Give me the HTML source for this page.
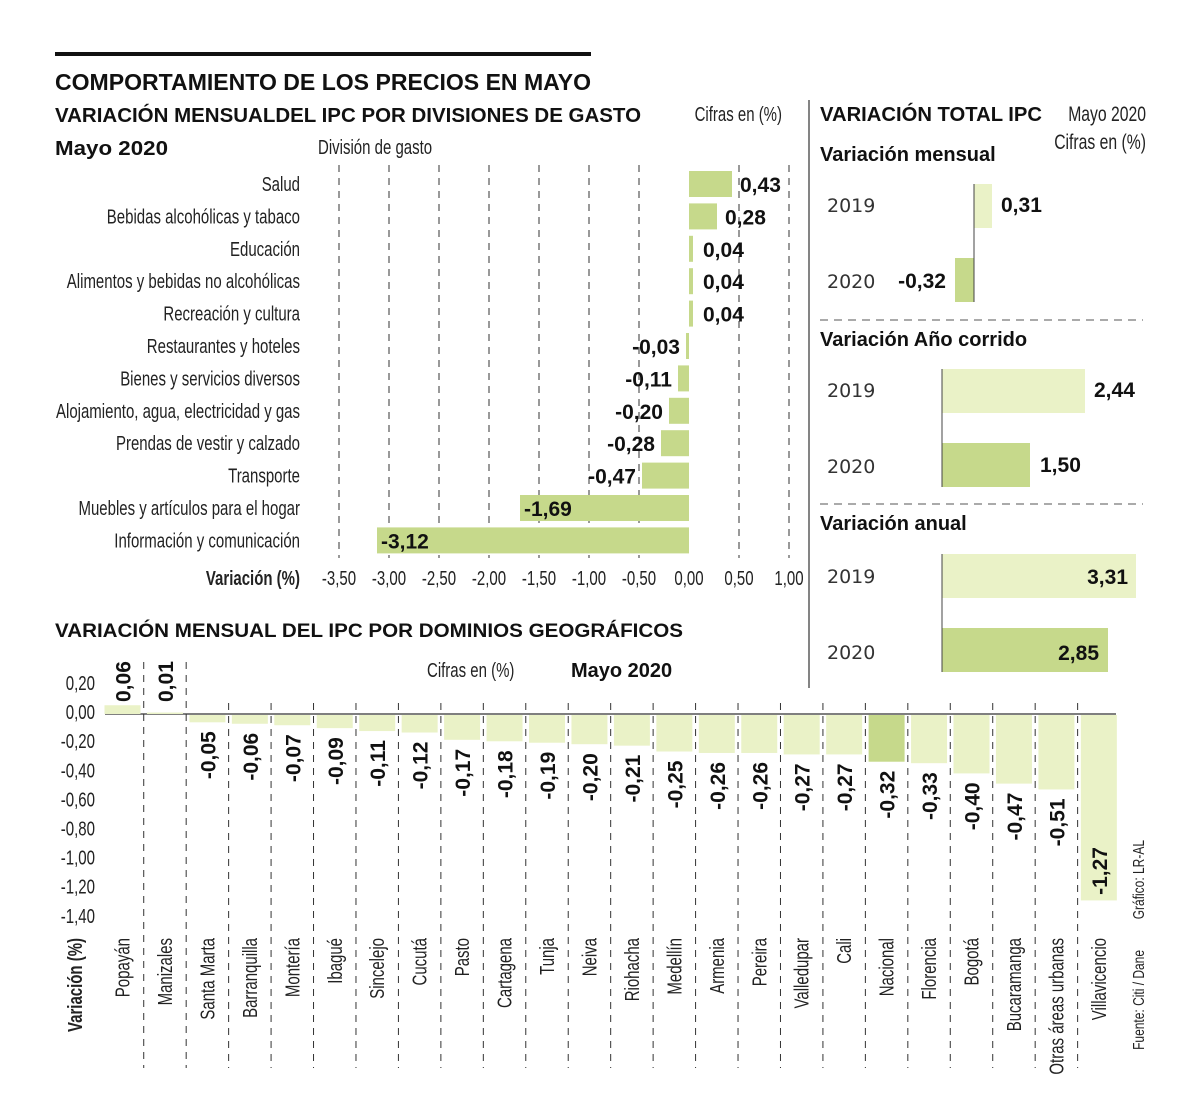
<!DOCTYPE html>
<html><head><meta charset="utf-8">
<style>
html,body{margin:0;padding:0;background:#fff;}
svg{display:block;}
.c{font-family:"Liberation Sans Narrow","Liberation Sans",sans-serif;fill:#222;}
.b{font-family:"Liberation Sans",sans-serif;font-weight:bold;fill:#111;}
</style></head>
<body>
<svg id="s" width="1200" height="1118" viewBox="0 0 1200 1118" xmlns="http://www.w3.org/2000/svg">
<rect x="55" y="52" width="536" height="4" fill="#111"/>
<text class="b" x="55" y="90" font-size="23" textLength="536" lengthAdjust="spacingAndGlyphs">COMPORTAMIENTO DE LOS PRECIOS EN MAYO</text>
<text class="b" x="55" y="122" font-size="20" textLength="586" lengthAdjust="spacingAndGlyphs">VARIACIÓN MENSUALDEL IPC POR DIVISIONES DE GASTO</text>
<text class="b" x="55" y="155" font-size="20" textLength="113" lengthAdjust="spacingAndGlyphs">Mayo 2020</text>
<g id="gtop"></g>
<g id="gright"></g>
<g id="gbot"></g>
</svg>
<script>
(function(){
var NS="http://www.w3.org/2000/svg";
function el(p,t,a,txt){var e=document.createElementNS(NS,t);for(var k in a)e.setAttribute(k,a[k]);if(txt!==undefined)e.textContent=txt;p.appendChild(e);return e;}
var condensed=[];
function ct(p,a,txt,fs){a["class"]="c";a["font-size"]=fs||20;var e=el(p,"text",a,txt);condensed.push(e);return e;}
function bt(p,a,txt,fs){a["class"]="b";a["font-size"]=fs||21;return el(p,"text",a,txt);}
var G1="#c6d98b",G2="#eaf2c7";
var T=document.getElementById("gtop");
ct(T,{x:318,y:154},"División de gasto");
ct(T,{x:782,y:121,"text-anchor":"end"},"Cifras en (%)");
for(var i=0;i<10;i++){var x=339+50*i;if(Math.abs(x-689)<1)continue;el(T,"line",{x1:x,y1:165,x2:x,y2:558,stroke:"#333","stroke-width":1,"stroke-dasharray":"7,6"});}
var cats=[["Salud",.43],["Bebidas alcohólicas y tabaco",.28],["Educación",.04],["Alimentos y bebidas no alcohólicas",.04],["Recreación y cultura",.04],["Restaurantes y hoteles",-.03],["Bienes y servicios diversos",-.11],["Alojamiento, agua, electricidad y gas",-.20],["Prendas de vestir y calzado",-.28],["Transporte",-.47],["Muebles y artículos para el hogar",-1.69],["Información y comunicación",-3.12]];
cats.forEach(function(c,i){var y=171+32.4*i;var v=c[1];var x0=689,x1=689+100*v;
el(T,"rect",{x:Math.min(x0,x1),y:y,width:Math.max(Math.abs(x1-x0),3),height:26,fill:G1});
ct(T,{x:300,y:y+20,"text-anchor":"end"},c[0]);
var lab=v.toFixed(2).replace(".",",");
if(v>0)bt(T,{x:x1+(v>.1?8:10),y:y+21},lab);
else if(v>-1)bt(T,{x:x1-6,y:y+21,"text-anchor":"end"},lab);
else bt(T,{x:x1+4,y:y+21},lab);
});
var ticks=["-3,50","-3,00","-2,50","-2,00","-1,50","-1,00","-0,50","0,00","0,50","1,00"];
ticks.forEach(function(t,i){ct(T,{x:339+50*i,y:585,"text-anchor":"middle"},t);});
ct(T,{x:300,y:585,"text-anchor":"end","font-weight":"bold",fill:"#111"},"Variación (%)");
var R=document.getElementById("gright");
el(R,"line",{x1:809,y1:100,x2:809,y2:688,stroke:"#333","stroke-width":1.2});
bt(R,{x:820,y:121,textLength:222,lengthAdjust:"spacingAndGlyphs"},"VARIACIÓN TOTAL IPC",20);
ct(R,{x:1146,y:121,"text-anchor":"end"},"Mayo 2020",21);
ct(R,{x:1146,y:149,"text-anchor":"end"},"Cifras en (%)",21);
bt(R,{x:820,y:161},"Variación mensual",20);
bt(R,{x:820,y:346},"Variación Año corrido",20);
bt(R,{x:820,y:530},"Variación anual",20);
[320,504].forEach(function(y){el(R,"line",{x1:820,y1:y,x2:1143,y2:y,stroke:"#777","stroke-width":1.2,"stroke-dasharray":"8,6"});});
function yr(y,t){el(R,"text",{x:827,y:y+7,"font-family":"DejaVu Sans, sans-serif","font-size":19,fill:"#333"},t);}
el(R,"rect",{x:974,y:184,width:18,height:44,fill:G2});
el(R,"rect",{x:955,y:258,width:19,height:44,fill:G1});
el(R,"line",{x1:974,y1:184,x2:974,y2:302,stroke:"#444","stroke-width":1});
yr(205,"2019");yr(281,"2020");
bt(R,{x:1001,y:212},"0,31");bt(R,{x:946,y:288,"text-anchor":"end"},"-0,32");
el(R,"rect",{x:942,y:369,width:143,height:44,fill:G2});
el(R,"rect",{x:942,y:443,width:88,height:44,fill:G1});
el(R,"line",{x1:942,y1:369,x2:942,y2:487,stroke:"#444","stroke-width":1});
yr(390,"2019");yr(466,"2020");
bt(R,{x:1094,y:397},"2,44");bt(R,{x:1040,y:472},"1,50");
el(R,"rect",{x:942,y:554,width:194,height:44,fill:G2});
el(R,"rect",{x:942,y:628,width:166,height:44,fill:G1});
el(R,"line",{x1:942,y1:554,x2:942,y2:672,stroke:"#444","stroke-width":1});
yr(576,"2019");yr(652,"2020");
bt(R,{x:1128,y:584,"text-anchor":"end"},"3,31");bt(R,{x:1099,y:660,"text-anchor":"end"},"2,85");
var B=document.getElementById("gbot");
bt(B,{x:55,y:637,textLength:628,lengthAdjust:"spacingAndGlyphs"},"VARIACIÓN MENSUAL DEL IPC POR DOMINIOS GEOGRÁFICOS",19);
ct(B,{x:427,y:677},"Cifras en (%)");
bt(B,{x:571,y:677},"Mayo 2020",20);
var yl=["0,20","0,00","-0,20","-0,40","-0,60","-0,80","-1,00","-1,20","-1,40"];
yl.forEach(function(t,i){ct(B,{x:95,y:690+29.1*i,"text-anchor":"end"},t);});
ct(B,{x:0,y:0,"text-anchor":"middle","font-weight":"bold",fill:"#111",transform:"translate(82,985) rotate(-90)"},"Variación (%)");
var cities=[["Popayán",.06],["Manizales",.01],["Santa Marta",-.05],["Barranquilla",-.06],["Montería",-.07],["Ibagué",-.09],["Sincelejo",-.11],["Cucutá",-.12],["Pasto",-.17],["Cartagena",-.18],["Tunja",-.19],["Neiva",-.20],["Riohacha",-.21],["Medellín",-.25],["Armenia",-.26],["Pereira",-.26],["Valledupar",-.27],["Cali",-.27],["Nacional",-.32],["Florencia",-.33],["Bogotá",-.40],["Bucaramanga",-.47],["Otras áreas urbanas",-.51],["Villavicencio",-1.27]];
var P=42.45,Z=714,S=146;
el(B,"line",{x1:105,y1:Z,x2:1116,y2:Z,stroke:"#333","stroke-width":1.2});
cities.forEach(function(c,i){var cx=122.5+P*i,v=c[1];
if(i<23){var lx=cx+P/2;el(B,"line",{x1:lx,y1:(i<2?662:703),x2:lx,y2:1068,stroke:"#333","stroke-width":1,"stroke-dasharray":"7,6"});}
var h=Math.abs(v)*S;var col=(c[0]=="Nacional")?G1:G2;
if(v>0)el(B,"rect",{x:cx-18,y:Z-h,width:36,height:h,fill:col});
else el(B,"rect",{x:cx-18,y:Z+1,width:36,height:h,fill:col});
var lab=v.toFixed(2).replace(".",",");
if(v>0)bt(B,{x:0,y:0,transform:"translate("+(cx+8)+","+(Z-12)+") rotate(-90)"},lab);
else if(v>-1)bt(B,{x:0,y:0,"text-anchor":"end",transform:"translate("+(cx+8)+","+(Z+h+10)+") rotate(-90)"},lab);
else bt(B,{x:0,y:0,"text-anchor":"end",transform:"translate("+(cx+8)+",847) rotate(-90)"},lab);
ct(B,{x:0,y:0,"text-anchor":"end",transform:"translate("+(cx+7)+",938) rotate(-90)"},c[0]);
});
ct(B,{x:0,y:0,"text-anchor":"end",fill:"#555",transform:"translate(1144,840) rotate(-90)"},"Gráfico: LR-AL",16);
ct(B,{x:0,y:0,"text-anchor":"end",fill:"#555",transform:"translate(1144,950) rotate(-90)"},"Fuente: Citi / Dane",16);
var ref=null;condensed.forEach(function(e){if(e.textContent.indexOf("Alojamiento")==0)ref=e;});
var f=1;try{var w=ref.getComputedTextLength();if(w>0)f=244/w;}catch(err){}
if(f>0.5&&f<1.5)condensed.forEach(function(e){try{var w=e.getComputedTextLength();if(w>0){e.setAttribute("textLength",(w*f).toFixed(1));e.setAttribute("lengthAdjust","spacingAndGlyphs");}}catch(err){}});
})();
</script>
</body></html>
